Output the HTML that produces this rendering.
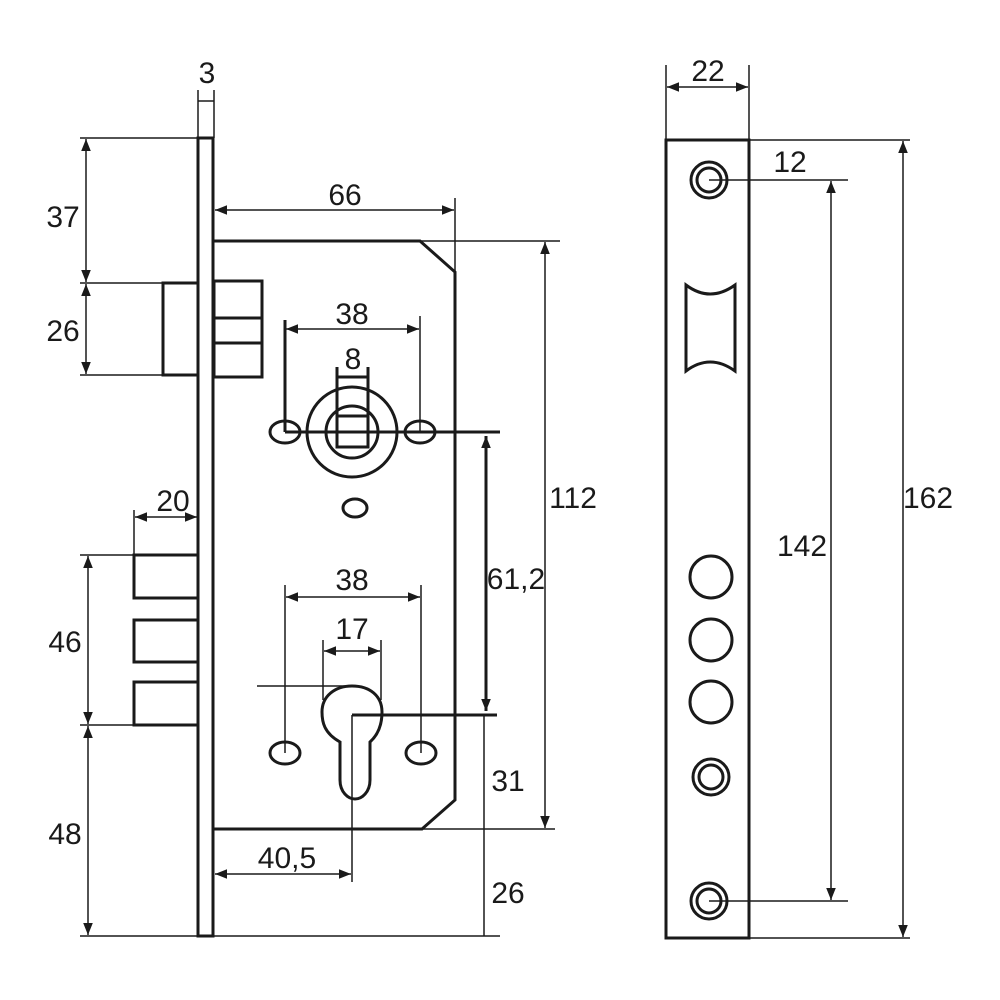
<!DOCTYPE html>
<html><head><meta charset="utf-8"><style>html,body{margin:0;padding:0;background:#fff}svg{display:block}</style></head>
<body>
<svg width="1000" height="1000" viewBox="0 0 1000 1000" xmlns="http://www.w3.org/2000/svg" font-family="Liberation Sans, sans-serif" font-size="30" fill="none" stroke="#1a1a1a">
<defs>
<marker id="a" viewBox="0 0 10 10" refX="10" refY="5" markerWidth="12" markerHeight="12" markerUnits="userSpaceOnUse" orient="auto-start-reverse"><path d="M0,1 L10,5 L0,9 z" fill="#1a1a1a" stroke="none"/></marker>
</defs>
<g stroke-width="3">
<rect x="198" y="138" width="15" height="798"/>
<path d="M214,241 H420 L455,272 V800 L422,829 H214"/>
<rect x="163" y="283" width="35" height="92"/>
<rect x="214" y="281" width="48" height="37"/>
<rect x="214" y="318" width="48" height="25"/>
<rect x="214" y="343" width="48" height="34"/>
<rect x="134" y="555" width="64" height="43"/>
<rect x="134" y="620" width="64" height="42"/>
<rect x="134" y="682" width="64" height="43"/>
<circle cx="352" cy="432" r="45"/>
<circle cx="352" cy="432" r="26"/>
<rect x="337" y="416" width="31" height="31"/>
<ellipse cx="285" cy="432" rx="15" ry="11"/>
<ellipse cx="420" cy="432" rx="15" ry="11"/>
<ellipse cx="355" cy="508" rx="12" ry="9"/>
<path d="M340,780 V742 C324,733 322,722 322,712 C322,696 335,686 352,686 C370,686 382,696 382,712 C382,722 380,733 370,742 V780 C370,792 362,799 355,799 C348,799 340,792 340,780 Z"/>
<ellipse cx="285" cy="753" rx="15" ry="11"/>
<ellipse cx="421" cy="753" rx="15" ry="11"/>
<rect x="666" y="140" width="83" height="798"/>
<path d="M686,285 Q710,303 735,285 V371 Q710,353 686,371 Z"/>
<circle cx="709" cy="180" r="18"/><circle cx="709" cy="180" r="12"/>
<circle cx="709" cy="901" r="18"/><circle cx="709" cy="901" r="12"/>
<circle cx="711" cy="777" r="18"/><circle cx="711" cy="777" r="12"/>
<circle cx="711" cy="577" r="21"/>
<circle cx="711" cy="640" r="21"/>
<circle cx="711" cy="702" r="21"/>
</g>
<g stroke-width="3">
<line x1="285" y1="432" x2="500" y2="432"/>
<line x1="352" y1="715" x2="497" y2="715"/>
<line x1="285" y1="320" x2="285" y2="432"/>
<line x1="337" y1="367" x2="337" y2="416"/>
<line x1="368" y1="367" x2="368" y2="416"/>
<line x1="337" y1="377" x2="368" y2="377"/>
<line x1="486" y1="436" x2="486" y2="711" marker-start="url(#a)" marker-end="url(#a)"/>
</g>
<g stroke-width="1.5">
<line x1="198" y1="90" x2="198" y2="138"/><line x1="214" y1="90" x2="214" y2="138"/><line x1="198" y1="101" x2="214" y2="101"/>
<line x1="455" y1="198" x2="455" y2="272"/>
<line x1="215" y1="210" x2="454" y2="210" marker-start="url(#a)" marker-end="url(#a)"/>
<line x1="420" y1="241" x2="560" y2="241"/>
<line x1="422" y1="829" x2="555" y2="829"/>
<line x1="545" y1="242" x2="545" y2="828" marker-start="url(#a)" marker-end="url(#a)"/>
<line x1="420" y1="316" x2="420" y2="432"/>
<line x1="286" y1="329" x2="419" y2="329" marker-start="url(#a)" marker-end="url(#a)"/>
<line x1="80" y1="138" x2="198" y2="138"/>
<line x1="80" y1="283" x2="163" y2="283"/>
<line x1="80" y1="375" x2="163" y2="375"/>
<line x1="86" y1="139" x2="86" y2="282" marker-start="url(#a)" marker-end="url(#a)"/>
<line x1="86" y1="284" x2="86" y2="374" marker-start="url(#a)" marker-end="url(#a)"/>
<line x1="80" y1="555" x2="134" y2="555"/>
<line x1="80" y1="725" x2="134" y2="725"/>
<line x1="80" y1="936" x2="500" y2="936"/>
<line x1="88" y1="556" x2="88" y2="724" marker-start="url(#a)" marker-end="url(#a)"/>
<line x1="88" y1="726" x2="88" y2="935" marker-start="url(#a)" marker-end="url(#a)"/>
<line x1="134" y1="510" x2="134" y2="555"/>
<line x1="135" y1="517" x2="197" y2="517" marker-start="url(#a)" marker-end="url(#a)"/>
<line x1="285" y1="585" x2="285" y2="753"/>
<line x1="421" y1="585" x2="421" y2="753"/>
<line x1="286" y1="597" x2="420" y2="597" marker-start="url(#a)" marker-end="url(#a)"/>
<line x1="323" y1="640" x2="323" y2="700"/>
<line x1="381" y1="640" x2="381" y2="700"/>
<line x1="324" y1="651" x2="380" y2="651" marker-start="url(#a)" marker-end="url(#a)"/>
<line x1="257" y1="686" x2="352" y2="686"/>
<line x1="352" y1="715" x2="352" y2="882"/>
<line x1="215" y1="874" x2="351" y2="874" marker-start="url(#a)" marker-end="url(#a)"/>
<line x1="484" y1="715" x2="484" y2="936"/>
<line x1="666" y1="65" x2="666" y2="140"/><line x1="749" y1="65" x2="749" y2="140"/>
<line x1="667" y1="87" x2="748" y2="87" marker-start="url(#a)" marker-end="url(#a)"/>
<line x1="749" y1="140" x2="910" y2="140"/><line x1="749" y1="938" x2="910" y2="938"/>
<line x1="903" y1="141" x2="903" y2="937" marker-start="url(#a)" marker-end="url(#a)"/>
<line x1="709" y1="180" x2="848" y2="180"/><line x1="709" y1="901" x2="848" y2="901"/>
<line x1="831" y1="181" x2="831" y2="900" marker-start="url(#a)" marker-end="url(#a)"/>
</g>
<g fill="#1a1a1a" stroke="none" text-anchor="middle">
<text x="207" y="83">3</text>
<text x="345" y="205">66</text>
<text x="63" y="227">37</text>
<text x="63" y="341">26</text>
<text x="352" y="324">38</text>
<text x="353" y="369">8</text>
<text x="573" y="508">112</text>
<text x="173" y="511">20</text>
<text x="516" y="589">61,2</text>
<text x="352" y="590">38</text>
<text x="352" y="639">17</text>
<text x="65" y="652">46</text>
<text x="508" y="791">31</text>
<text x="65" y="844">48</text>
<text x="287" y="868">40,5</text>
<text x="508" y="903">26</text>
<text x="708" y="81">22</text>
<text x="790" y="172">12</text>
<text x="802" y="556">142</text>
<text x="928" y="508">162</text>
</g>
</svg>
</body></html>
